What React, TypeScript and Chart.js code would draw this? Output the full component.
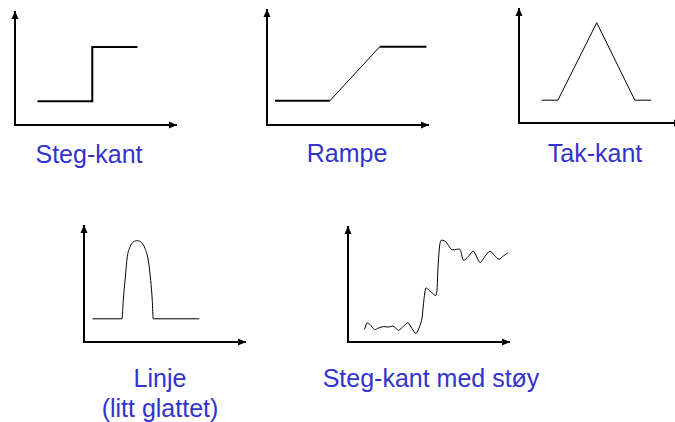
import React, { useEffect, useRef } from "react";
import { Chart, registerables } from "chart.js";

Chart.register(...registerables);

// ---- data (x: time, y: intensity, both on a 0..10 scale) ----
const stepX = [1.4, 4.8, 4.8, 7.6];
const stepY = [2.1, 2.1, 6.9, 6.9];

const rampX = [0.5, 3.9, 7.0, 9.9];
const rampY = [2.1, 2.1, 6.8, 6.8];

const roofX = [1.4, 2.4, 4.8, 7.15, 8.15];
const roofY = [2.0, 2.0, 8.8, 2.0, 2.0];

const lineX = [0.52, 2.36, 2.44, 2.55, 2.69, 2.86, 3.06, 3.34, 3.58, 3.79, 3.99, 4.14, 4.24, 4.3, 7.16];
const lineY = [2.0, 2.0, 3.6, 5.33, 7.35, 8.21, 8.62, 8.73, 8.56, 8.07, 7.06, 5.33, 3.6, 2.0, 2.0];

const noisyX = [
  1.03, 1.18, 1.38, 1.65, 1.9, 2.21, 2.52, 2.79, 2.93, 3.14, 3.45, 3.72, 3.97, 4.22, 4.44, 4.59, 4.69,
  4.84, 5.1, 5.47, 5.58, 5.68, 5.78, 6.03, 6.24, 6.45, 6.76, 6.96, 7.17, 7.48, 7.79, 8.2, 8.51, 8.82,
  9.09, 9.38, 9.65, 9.92,
];
const noisyY = [
  1.1, 1.65, 1.51, 1.08, 1.22, 1.34, 1.3, 1.39, 1.25, 1.02, 1.37, 1.69, 1.17, 0.73, 1.3, 2.03, 3.34,
  4.7, 4.41, 4.06, 6.23, 8.26, 8.84, 8.76, 8.41, 8.03, 8.06, 8.06, 7.1, 7.45, 7.91, 6.9, 7.45, 7.91,
  7.54, 7.19, 7.48, 7.74,
];

const labels = {
  step: "Steg-kant",
  ramp: "Rampe",
  roof: "Tak-kant",
  line1: "Linje",
  line2: "(litt glattet)",
  noisy: "Steg-kant med støy",
};

const toPoints = (xs: number[], ys: number[]) => xs.map((x, i) => ({ x, y: ys[i] }));

const arrowPlugin = {
  id: "axisArrows",
  afterDraw(chart: any) {
    const ctx = chart.ctx;
    const xs = chart.scales.x;
    const ys = chart.scales.y;
    const left = xs.left;
    const right = xs.right;
    const top = ys.top;
    const bottom = ys.bottom;
    ctx.save();
    ctx.fillStyle = "#000";
    ctx.beginPath();
    ctx.moveTo(left, top - 1);
    ctx.lineTo(left - 3.5, top + 7);
    ctx.lineTo(left + 3.5, top + 7);
    ctx.closePath();
    ctx.fill();
    ctx.beginPath();
    ctx.moveTo(right + 1, bottom);
    ctx.lineTo(right - 7, bottom - 3.5);
    ctx.lineTo(right - 7, bottom + 3.5);
    ctx.closePath();
    ctx.fill();
    ctx.restore();
  },
};

type PanelProps = {
  ox: number;
  oy: number;
  xt: number;
  yt: number;
  xs: number[];
  ys: number[];
  width: number;
  thinSegment?: number;
  interp?: "default" | "monotone";
  tension?: number;
};

const PAD = 8;

function Panel({ ox, oy, xt, yt, xs, ys, width, thinSegment, interp, tension }: PanelProps) {
  const ref = useRef<HTMLCanvasElement | null>(null);
  useEffect(() => {
    if (!ref.current) return;
    const chart = new Chart(ref.current, {
      type: "line",
      data: {
        datasets: [
          {
            data: toPoints(xs, ys),
            borderColor: "#000",
            borderWidth: width,
            pointRadius: 0,
            fill: false,
            tension: tension ?? 0,
            cubicInterpolationMode: interp ?? "default",
            segment:
              thinSegment !== undefined
                ? { borderWidth: (c: any) => (c.p0DataIndex === thinSegment ? 1 : width) }
                : undefined,
          } as any,
        ],
      },
      options: {
        animation: false,
        responsive: false,
        maintainAspectRatio: false,
        layout: { padding: PAD },
        plugins: { legend: { display: false }, tooltip: { enabled: false }, title: { display: false } },
        scales: {
          x: {
            type: "linear",
            min: 0,
            max: 10,
            ticks: { display: false },
            grid: { display: false, drawTicks: false, tickLength: 0 },
            border: { display: true, color: "#000", width: 2 },
          },
          y: {
            type: "linear",
            min: 0,
            max: 10,
            ticks: { display: false },
            grid: { display: false, drawTicks: false, tickLength: 0 },
            border: { display: true, color: "#000", width: 2 },
          },
        },
      },
      plugins: [arrowPlugin],
    });
    return () => chart.destroy();
  }, []);
  const w = xt - ox + 2 * PAD;
  const h = oy - yt + 2 * PAD;
  return (
    <canvas
      ref={ref}
      width={w}
      height={h}
      style={{ position: "absolute", left: ox - PAD, top: yt - PAD, width: w, height: h }}
    />
  );
}

const labelStyle: React.CSSProperties = {
  position: "absolute",
  width: 300,
  textAlign: "center",
  fontFamily: "'Liberation Sans', Arial, sans-serif",
  fontSize: 25,
  lineHeight: "30px",
  color: "#3333cc",
  whiteSpace: "nowrap",
};

function Label({ cx, top, children }: { cx: number; top: number; children: React.ReactNode }) {
  return <div style={{ ...labelStyle, left: cx - 150, top }}>{children}</div>;
}

export default function App() {
  return (
    <div
      style={{
        position: "fixed",
        left: 0,
        top: 0,
        width: 675,
        height: 422,
        overflow: "hidden",
        background: "#fff",
      }}
    >
      <Panel ox={15} oy={125} xt={176} yt={12} xs={stepX} ys={stepY} width={2} />
      <Panel ox={267} oy={125} xt={428} yt={10} xs={rampX} ys={rampY} width={2} thinSegment={1} />
      <Panel ox={519} oy={123} xt={681} yt={9} xs={roofX} ys={roofY} width={1} />
      <Panel ox={84} oy={342} xt={245} yt={226} xs={lineX} ys={lineY} width={1} interp="monotone" />
      <Panel ox={348} oy={342} xt={509} yt={227} xs={noisyX} ys={noisyY} width={1} tension={0.25} />
      <Label cx={89} top={138.6}>{labels.step}</Label>
      <Label cx={347} top={138.3}>{labels.ramp}</Label>
      <Label cx={595} top={138}>{labels.roof}</Label>
      <Label cx={160} top={363}>
        {labels.line1}
        <br />
        {labels.line2}
      </Label>
      <Label cx={431} top={363}>{labels.noisy}</Label>
    </div>
  );
}
